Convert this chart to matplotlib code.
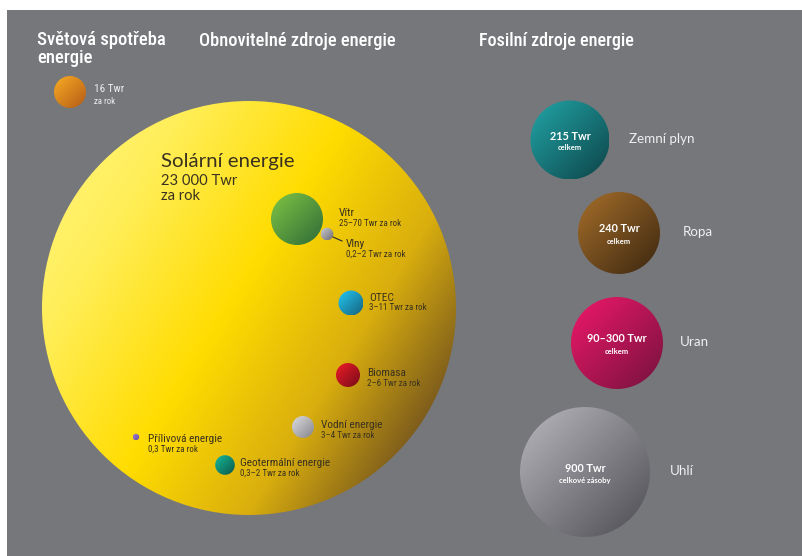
import numpy as np
import matplotlib
matplotlib.use("Agg")
import matplotlib.pyplot as plt
import matplotlib.font_manager as fm
from matplotlib.patches import Circle, Rectangle
from matplotlib.colors import LinearSegmentedColormap

# ---------------- data ----------------
titles = ["Světová spotřeba", "energie", "Obnovitelné zdroje energie", "Fosilní zdroje energie"]

world_value = "16 Twr"
world_unit = "za rok"

solar_name = "Solární energie"
solar_value = "23 000 Twr"
solar_unit = "za rok"

renew_names = ["Vítr", "Vlny", "OTEC", "Biomasa", "Vodní energie",
               "Přílivová energie", "Geotermální energie"]
renew_values = ["25–70 Twr za rok", "0,2–2 Twr za rok", "3–11 Twr za rok",
                "2–6 Twr za rok", "3–4 Twr za rok", "0,3 Twr za rok",
                "0,3–2 Twr za rok"]

fossil_names = ["Zemní plyn", "Ropa", "Uran", "Uhlí"]
fossil_values = ["215 Twr", "240 Twr", "90–300 Twr", "900 Twr"]
fossil_units = ["celkem", "celkem", "celkem", "celkové zásoby"]

# ---------------- layout (pixels) ----------------
W, H = 803, 556
title_pos = [(37, 40), (37, 58), (199, 41), (479, 41)]
title_w = [130, None, 198, 156]
world_pos = (70, 92, 16)
solar_pos = (249, 308, 207)
renew_pos = [(297, 219, 26), (327, 234, 6.3), (351, 303, 12.5), (348, 375, 12),
             (303, 427, 11), (136, 437, 3.2), (225, 465, 9.8)]
renew_label_pos = [(339, 213), (346, 244), (369, 298), (367, 373),
                   (321, 425), (148, 439), (240, 463)]
fossil_pos = [(570, 140, 39.5), (619, 233, 41), (617, 343, 46), (585, 472, 65)]
fossil_label_x = [629, 683, 680, 670]

# ---------------- styles ----------------
BG = "#76777b"
DARK = "#3a321f"
world_col = ["#f9ac22", "#b35b18"]
renew_cols = [["#80c544", "#2e6b38"], ["#cfcfd3", "#6a6a70"], ["#22c8f4", "#17647f"],
              ["#f01c28", "#760c19"], ["#dcdce0", "#85858b"], ["#9a7ad0", "#6a4ea0"],
              ["#16bc9c", "#0c5548"]]
fossil_cols = [["#22a6a8", "#0d4448"], ["#a66e2a", "#3b2710"],
               ["#f0186a", "#74123e"], ["#b8b8be", "#4c4c52"]]

# pick a condensed face if one is installed
entries = fm.fontManager.ttflist
names = {e.name for e in entries}
NARROW = dict(family=["Roboto", "DejaVu Sans"])
for fam in ["Liberation Sans Narrow", "Roboto Condensed", "Open Sans Condensed",
            "Noto Sans Condensed"]:
    if fam in names:
        NARROW = dict(family=[fam, "DejaVu Sans"])
        break
else:
    for fam in ["Roboto", "Noto Sans", "Open Sans", "DejaVu Sans"]:
        if any(e.name == fam and "condensed" in str(e.stretch) for e in entries):
            NARROW = dict(family=[fam, "DejaVu Sans"], fontstretch="condensed")
            break
HUMAN = dict(family=["Lato", "DejaVu Sans"])

fig = plt.figure(figsize=(W / 100, H / 100), dpi=100)
fig.patch.set_facecolor("white")
ax = fig.add_axes([0, 0, 1, 1])
ax.set_axis_off()
ax.set_xlim(0, W)
ax.set_ylim(H, 0)
renderer = fig.canvas.get_renderer()

ax.add_patch(Rectangle((7, 10), W - 7, H - 10, facecolor=BG, edgecolor="none", zorder=0))


def fit(t, target):
    w = t.get_window_extent(renderer).width
    t.set_fontsize(t.get_fontsize() * target / w)
    return t.get_fontsize()


def grad_circle(cx, cy, r, stops, direction=(1.0, 1.0), z=2):
    n = 300
    u = np.linspace(0, 1, n)
    U, V = np.meshgrid(u, u)
    dx, dy = direction
    t = (U * dx + V * dy) / (dx + dy)
    cmap = LinearSegmentedColormap.from_list("g", stops)
    im = ax.imshow(t, cmap=cmap, vmin=0, vmax=1, extent=(cx - r, cx + r, cy + r, cy - r),
                   origin="upper", interpolation="bilinear", zorder=z)
    circ = Circle((cx, cy), r, transform=ax.transData, facecolor="none", edgecolor="none")
    ax.add_patch(circ)
    im.set_clip_path(circ)
    return im


# titles
tt = []
for s, (x, y) in zip(titles, title_pos):
    tt.append(ax.text(x, y, s, color="white", fontsize=14, fontweight="medium",
                      va="center", ha="left", zorder=5, **NARROW))
fs = fit(tt[0], title_w[0])
tt[1].set_fontsize(fs)
fit(tt[2], title_w[2])
fit(tt[3], title_w[3])

# world consumption
grad_circle(*world_pos, world_col)
t = ax.text(94, 89, world_value, color="#eeeeee", fontsize=8, va="center", zorder=5, **NARROW)
fit(t, 30)
t = ax.text(94, 101, world_unit, color="#eeeeee", fontsize=5.5, va="center", zorder=5, **NARROW)
fit(t, 21)

# solar
sun_stops = [(0.0, "#fff584"), (0.22, "#ffee58"), (0.47, "#ffdc00"),
             (0.69, "#d9ae0e"), (0.87, "#7c5b1c"), (1.0, "#6a4c1a")]
grad_circle(*solar_pos, sun_stops, direction=(0.85, 0.53), z=1)
t = ax.text(161, 167, solar_name, color=DARK, fontsize=15, va="baseline", zorder=5, **HUMAN)
fit(t, 134)
t1 = ax.text(161, 185, solar_value, color=DARK, fontsize=12, va="baseline", zorder=5, **HUMAN)
fs = fit(t1, 76)
ax.text(161, 200, solar_unit, color=DARK, fontsize=fs, va="baseline", zorder=5, **HUMAN)

# renewables
name_txt, val_txt = [], []
for name, val, (cx, cy, r), (lx, ly), cols in zip(renew_names, renew_values, renew_pos,
                                                   renew_label_pos, renew_cols):
    grad_circle(cx, cy, r, cols, z=3)
    name_txt.append(ax.text(lx, ly, name, color=DARK, fontsize=8.5, va="center",
                            zorder=5, **NARROW))
    val_txt.append(ax.text(lx, ly + 10, val, color=DARK, fontsize=6, va="center",
                           zorder=5, **NARROW))
fs = fit(name_txt[6], 91)
for t in name_txt:
    t.set_fontsize(fs)
fs = fit(val_txt[6], 59)
for t in val_txt:
    t.set_fontsize(fs)

ax.plot([333, 342], [237, 241], color="#2a2a2a", lw=0.8, zorder=4)

# fossil
for name, val, unit, (cx, cy, r), lx, cols in zip(fossil_names, fossil_values, fossil_units,
                                                  fossil_pos, fossil_label_x, fossil_cols):
    grad_circle(cx, cy, r, cols, z=3)
    ax.text(cx, cy - 4, val, color="white", fontsize=7.8, fontweight="bold",
            ha="center", va="center", zorder=5, **HUMAN)
    ax.text(cx, cy + 8, unit, color="white", fontsize=5.5, fontweight="bold",
            ha="center", va="center", zorder=5, **HUMAN)
    ax.text(lx, cy - 1, name, color="#f0f0f0", fontsize=9.6,
            ha="left", va="center", zorder=5, **HUMAN)

ax.set_xlim(0, W)
ax.set_ylim(H, 0)
ax.set_aspect("auto")

fig.savefig("out.png", dpi=100, facecolor=fig.get_facecolor())
